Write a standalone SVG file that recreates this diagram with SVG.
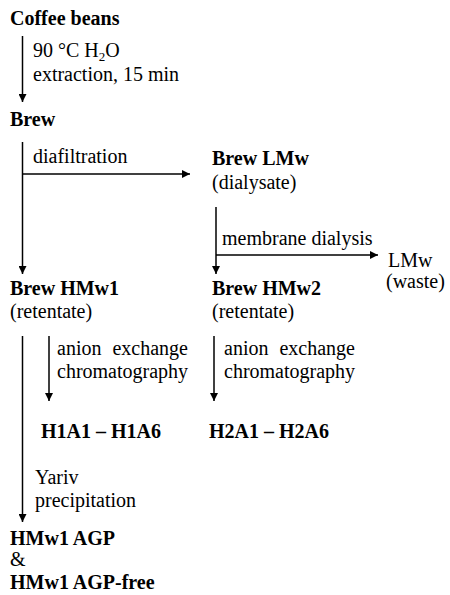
<svg xmlns="http://www.w3.org/2000/svg" width="450" height="595" viewBox="0 0 450 595">
<style>
text{font-family:"Liberation Serif","Times New Roman","DejaVu Serif",serif;font-size:20px;fill:#000}
.b{font-weight:bold}
.c{stroke:#000;stroke-width:1.5;fill:none}
.a{marker-end:url(#ah)}
</style>
<defs>
<marker id="ah" viewBox="0 0 10 10" refX="10" refY="5" markerWidth="10" markerHeight="8" markerUnits="userSpaceOnUse" orient="auto">
<path d="M0,0 L10,5 L0,10 z" fill="#000"/>
</marker>
</defs>
<rect width="450" height="595" fill="#fff"/>
<g id="connectors">
<line class="c a" x1="22.5" y1="36" x2="22.5" y2="102"/>
<line class="c a" x1="22.5" y1="142" x2="22.5" y2="274"/>
<line class="c a" x1="22.5" y1="174" x2="190" y2="174"/>
<line class="c a" x1="216" y1="207" x2="216" y2="274"/>
<line class="c a" x1="216" y1="255" x2="378" y2="255"/>
<line class="c a" x1="22.5" y1="336" x2="22.5" y2="522"/>
<line class="c a" x1="49" y1="336" x2="49" y2="401"/>
<line class="c a" x1="214" y1="336" x2="214" y2="401"/>
</g>
<g id="coffee-beans"><text class="b" x="10" y="25">Coffee beans</text></g>
<g id="label-extraction">
<text x="33" y="57">90 °C H<tspan font-size="13" dy="4">2</tspan><tspan dy="-4">O</tspan></text>
<text x="33" y="81">extraction, 15 min</text>
</g>
<g id="brew"><text class="b" x="10" y="126">Brew</text></g>
<g id="label-diafiltration"><text x="33" y="163">diafiltration</text></g>
<g id="brew-lmw">
<text class="b" x="212" y="165">Brew LMw</text>
<text x="212" y="189">(dialysate)</text>
</g>
<g id="label-membrane"><text x="222" y="245">membrane dialysis</text></g>
<g id="lmw-waste">
<text x="388" y="267">LMw</text>
<text x="386" y="288">(waste)</text>
</g>
<g id="brew-hmw1">
<text class="b" x="10" y="295">Brew HMw1</text>
<text x="10" y="318">(retentate)</text>
</g>
<g id="brew-hmw2">
<text class="b" x="212" y="295">Brew HMw2</text>
<text x="212" y="318">(retentate)</text>
</g>
<g id="label-anion1">
<text x="57" y="355">anion</text><text x="188" y="355" text-anchor="end">exchange</text>
<text x="57" y="378">chromatography</text>
</g>
<g id="label-anion2">
<text x="224" y="355">anion</text><text x="355" y="355" text-anchor="end">exchange</text>
<text x="224" y="378">chromatography</text>
</g>
<g id="h1a"><text class="b" x="41" y="438">H1A1 – H1A6</text></g>
<g id="h2a"><text class="b" x="209" y="438">H2A1 – H2A6</text></g>
<g id="label-yariv">
<text x="35" y="484">Yariv</text>
<text x="35" y="507">precipitation</text>
</g>
<g id="hmw1-agp">
<text class="b" x="10" y="545">HMw1 AGP</text>
<text x="10" y="566">&amp;</text>
<text class="b" x="10" y="589">HMw1 AGP-free</text>
</g>
</svg>
